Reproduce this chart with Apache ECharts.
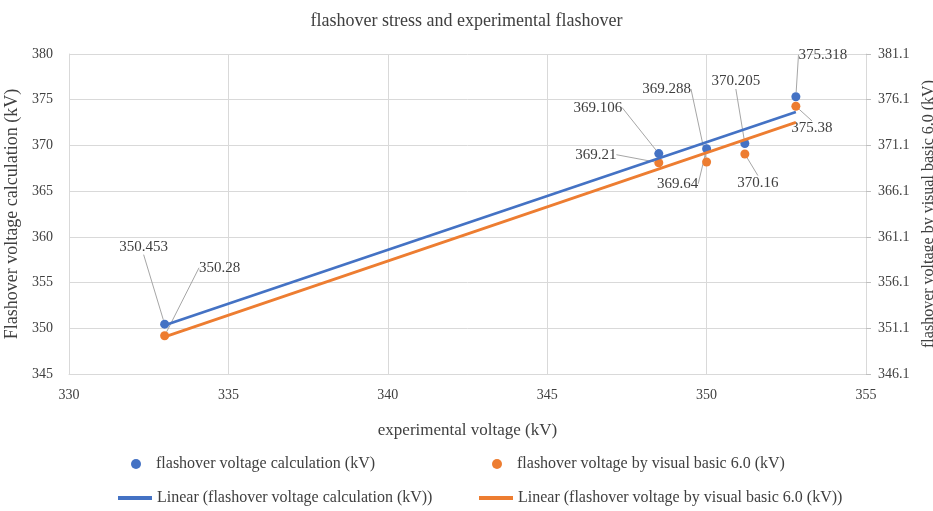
<!DOCTYPE html>
<html>
<head>
<meta charset="utf-8">
<script src="https://cdn.jsdelivr.net/npm/echarts@6/dist/echarts.min.js"></script>
<style>
  html, body { margin: 0; padding: 0; background: #fff; }
  #main { width: 933px; height: 511px; }
</style>
</head>
<body>
<div id="main"></div>
<script>
// experimental voltage (kV)
var experimental = [333, 348.5, 350, 351.2, 352.8];
// flashover voltage calculation (kV) - left axis
var calcVoltage = [350.453, 369.106, 369.64, 370.205, 375.318];
// flashover voltage by visual basic 6.0 (kV) - right axis
var vbVoltage = [350.28, 369.21, 369.288, 370.16, 375.38];

var leftTicks = [345, 380, 5];
var rightTicks = [346.1, 381.1, 5];

var nameCalc = 'flashover voltage calculation (kV)';
var nameVb = 'flashover voltage by visual basic 6.0 (kV)';
var trendCalc = 'Linear (flashover voltage calculation (kV))';
var trendVb = 'Linear (flashover voltage by visual basic 6.0 (kV))';

// label offsets (pixels) relative to each point
var calcOffsets = [[-21, -77], [-61, -46], [-29, 35], [-9, -62], [27, -42]];
var vbOffsets = [[55, -68], [-63, -8], [-40, -73], [13, 29], [16, 22]];

function pairs(xs, ys) {
    return xs.map(function (x, i) { return [x, ys[i]]; });
}

// least squares line over the data range, like an Excel linear trendline
function trend(xs, ys) {
    var n = xs.length, mx = 0, my = 0, sxy = 0, sxx = 0;
    for (var i = 0; i < n; i++) { mx += xs[i] / n; my += ys[i] / n; }
    for (var j = 0; j < n; j++) {
        sxy += (xs[j] - mx) * (ys[j] - my);
        sxx += (xs[j] - mx) * (xs[j] - mx);
    }
    var k = sxy / sxx, b = my - k * mx;
    var x0 = Math.min.apply(null, xs), x1 = Math.max.apply(null, xs);
    return [[x0, k * x0 + b], [x1, k * x1 + b]];
}

var font = 'Liberation Serif';
var textColor = '#404040';
var gridColor = '#d9d9d9';
var blue = '#4472C4';
var orange = '#ED7D31';

function pointLabel(offsets) {
    return {
        label: {
            show: true,
            position: 'inside',
            formatter: function (p) { return p.value[1]; },
            fontFamily: font,
            fontSize: 15,
            color: textColor
        },
        labelLine: { show: true, lineStyle: { color: '#a6a6a6', width: 1 } },
        labelLayout: function (p) {
            var o = offsets[p.dataIndex];
            return { dx: o[0], dy: o[1] };
        }
    };
}

function legendAt(name, left, top, icon, w, h) {
    return {
        left: left, top: top,
        data: [{ name: name, icon: icon }],
        itemWidth: w, itemHeight: h,
        textStyle: { fontFamily: font, fontSize: 16, color: textColor }
    };
}

var myChart = echarts.init(document.getElementById('main'));
myChart.setOption({
    animation: false,
    backgroundColor: '#fff',
    title: {
        text: 'flashover stress and experimental flashover',
        left: 'center', top: 7,
        textStyle: { fontFamily: font, fontSize: 18, fontWeight: 'normal', color: textColor }
    },
    legend: [
        legendAt(nameCalc, 126, 451, 'circle', 30, 10),
        legendAt(nameVb, 487, 451, 'circle', 30, 10),
        legendAt(trendCalc, 113, 485, 'rect', 34, 4),
        legendAt(trendVb, 474, 485, 'rect', 34, 4)
    ],
    grid: { left: 69, right: 67, top: 54, bottom: 137, outerBoundsMode: 'none' },
    xAxis: {
        type: 'value',
        min: 330, max: 355, interval: 5,
        name: 'experimental voltage (kV)',
        nameLocation: 'middle', nameGap: 48,
        nameTextStyle: { fontFamily: font, fontSize: 17, color: textColor },
        axisLine: { show: true, lineStyle: { color: gridColor } },
        axisTick: { show: false },
        axisLabel: { fontFamily: font, fontSize: 14, color: textColor, margin: 14 },
        splitLine: { show: true, lineStyle: { color: gridColor } }
    },
    yAxis: [
        {
            type: 'value',
            min: leftTicks[0], max: leftTicks[1], interval: leftTicks[2],
            name: 'Flashover voltage calculation (kV)',
            nameLocation: 'middle', nameGap: 34, nameRotate: 90,
            nameTextStyle: { fontFamily: font, fontSize: 18, color: textColor },
            axisLine: { show: true, lineStyle: { color: gridColor } },
            axisTick: { show: false },
            axisLabel: { fontFamily: font, fontSize: 14, color: textColor, margin: 16 },
            splitLine: { show: true, lineStyle: { color: gridColor } }
        },
        {
            type: 'value',
            position: 'right',
            min: rightTicks[0], max: rightTicks[1], interval: rightTicks[2],
            name: 'flashover voltage by visual basic 6.0 (kV)',
            nameLocation: 'middle', nameGap: 46, nameRotate: 90,
            nameTextStyle: { fontFamily: font, fontSize: 16, color: textColor },
            axisLine: { show: true, lineStyle: { color: gridColor } },
            axisTick: { show: true, length: 5, lineStyle: { color: '#bfbfbf' } },
            axisLabel: {
                fontFamily: font, fontSize: 14, color: textColor, margin: 12,
                formatter: function (v) { return v.toFixed(1); }
            },
            splitLine: { show: false }
        }
    ],
    series: [
        Object.assign({
            name: nameCalc,
            type: 'scatter',
            yAxisIndex: 0,
            symbolSize: 9,
            itemStyle: { color: blue, opacity: 1 },
            data: pairs(experimental, calcVoltage)
        }, pointLabel(calcOffsets)),
        Object.assign({
            name: nameVb,
            type: 'scatter',
            yAxisIndex: 1,
            symbolSize: 9,
            itemStyle: { color: orange, opacity: 1 },
            data: pairs(experimental, vbVoltage)
        }, pointLabel(vbOffsets)),
        {
            name: trendCalc,
            type: 'line',
            yAxisIndex: 0,
            showSymbol: false,
            symbol: 'none',
            itemStyle: { color: blue },
            lineStyle: { color: blue, width: 2.75 },
            data: trend(experimental, calcVoltage)
        },
        {
            name: trendVb,
            type: 'line',
            yAxisIndex: 1,
            showSymbol: false,
            symbol: 'none',
            itemStyle: { color: orange },
            lineStyle: { color: orange, width: 2.75 },
            data: trend(experimental, vbVoltage)
        }
    ]
});
</script>
</body>
</html>
